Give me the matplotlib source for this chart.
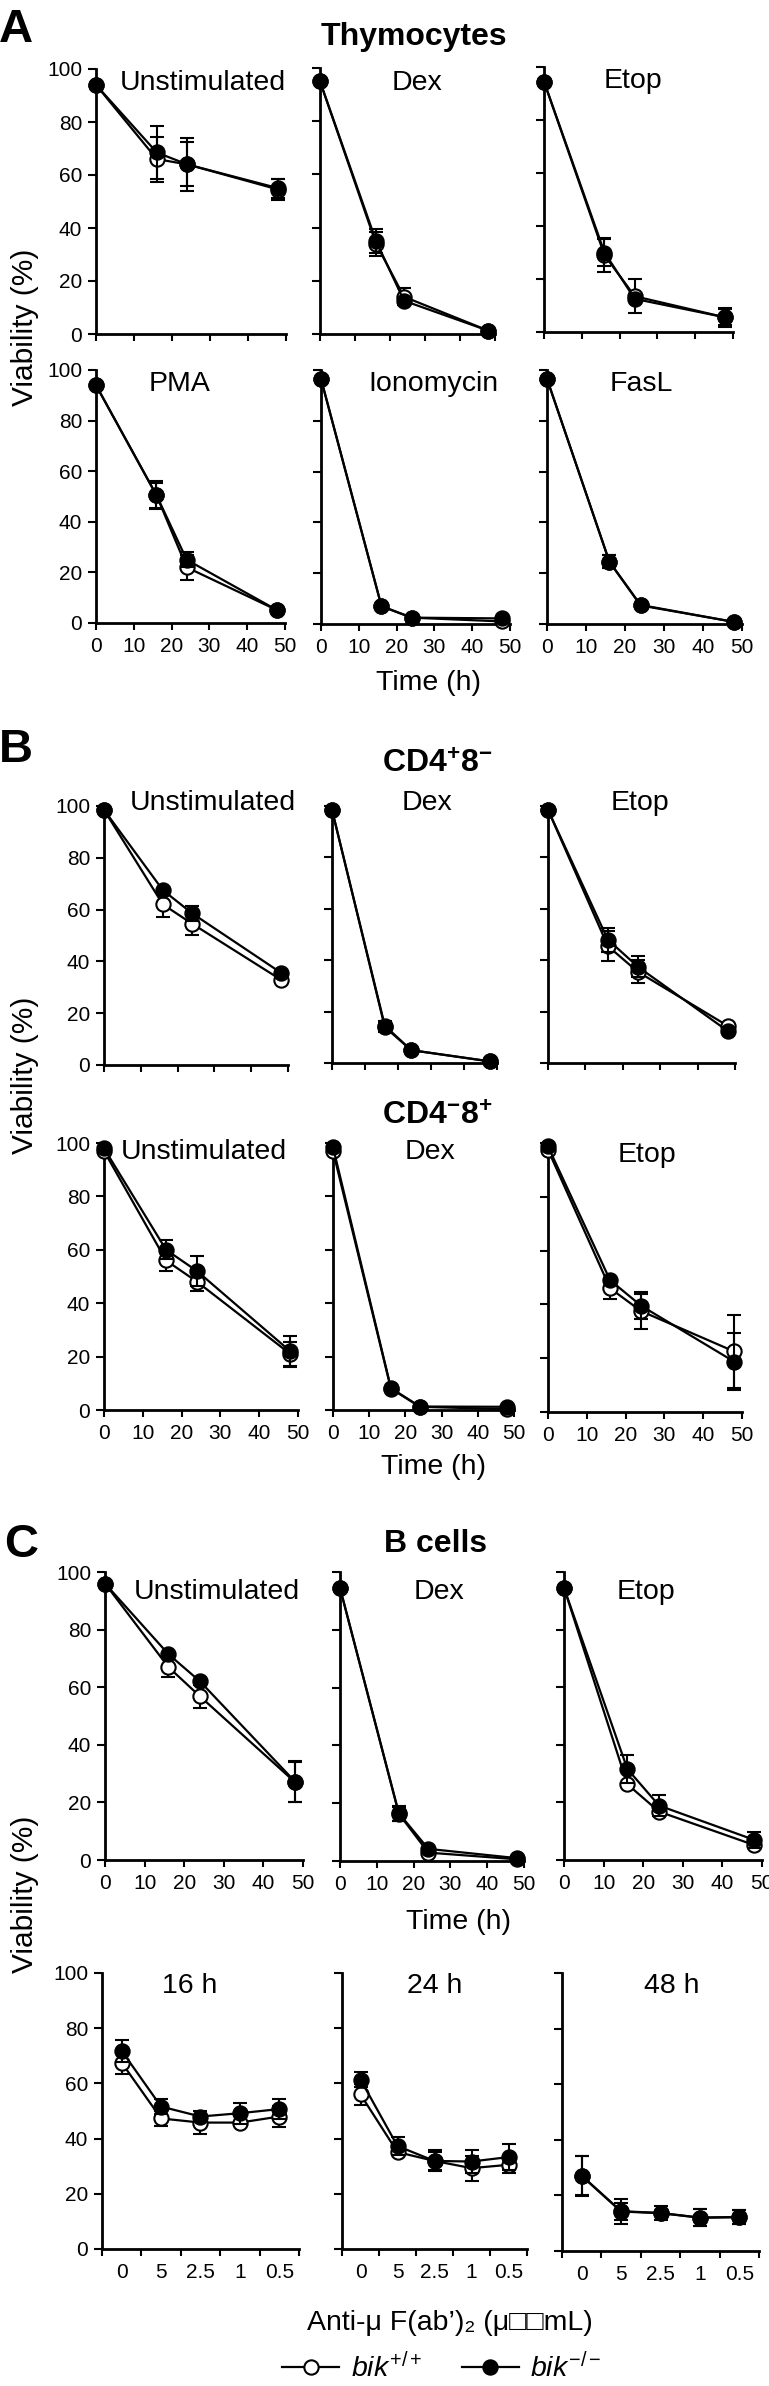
import numpy as np
import matplotlib
matplotlib.use('Agg')
import matplotlib.pyplot as plt
from matplotlib.lines import Line2D

plt.rcParams['font.family'] = ['Liberation Sans', 'DejaVu Sans']
plt.rcParams['mathtext.fontset'] = 'custom'
plt.rcParams['mathtext.rm'] = 'Liberation Sans'
plt.rcParams['mathtext.it'] = 'Liberation Sans:italic'
plt.rcParams['mathtext.bf'] = 'Liberation Sans:bold'

# ---------------- data ----------------
TIME = [0, 16, 24, 48]
TIME_TICKS = [0, 10, 20, 30, 40, 50]
VIAB_TICKS = [0, 20, 40, 60, 80, 100]
DOSE_LABELS = ['0', '5', '2.5', '1', '0.5']

# Thymocytes
thy_unstim_wt = [94, 66, 64, 54.5];   thy_unstim_wt_err = [0, 8.5, 8.3, 4]
thy_unstim_ko = [94, 68.5, 64, 55];   thy_unstim_ko_err = [0, 10, 10, 3.5]
thy_dex_wt = [95, 34, 14, 1.3];       thy_dex_wt_err = [0, 4.5, 3.2, 0]
thy_dex_ko = [95, 35, 12.5, 1.3];     thy_dex_ko_err = [0, 4.5, 0, 0]
thy_etop_wt = [94.5, 29, 13.5, 5.5];  thy_etop_wt_err = [0, 6.3, 6.5, 3.5]
thy_etop_ko = [94.5, 30, 12.5, 5.5];  thy_etop_ko_err = [0, 5, 0, 3]
thy_pma_wt = [94, 50.5, 22, 5];       thy_pma_wt_err = [0, 5.5, 5, 0]
thy_pma_ko = [94, 50.5, 25, 5];       thy_pma_ko_err = [0, 5, 3, 0]
thy_iono_wt = [96.5, 7, 2.5, 1];      thy_iono_wt_err = [0, 0, 0, 0]
thy_iono_ko = [96.5, 7, 2.5, 2.2];    thy_iono_ko_err = [0, 0, 0, 0]
thy_fasl_wt = [96.5, 24.5, 7.3, 0.8]; thy_fasl_wt_err = [0, 2.5, 0, 0]
thy_fasl_ko = [96.5, 24.5, 7.5, 0.8]; thy_fasl_ko_err = [0, 2.5, 0, 0]

# CD4+8-
cd4_unstim_wt = [98.5, 62, 54.5, 33];   cd4_unstim_wt_err = [0, 5, 4.5, 0]
cd4_unstim_ko = [98.5, 67.5, 58.5, 35.7]; cd4_unstim_ko_err = [0, 0, 3, 0]
cd4_dex_wt = [98.5, 14, 5, 0.6];        cd4_dex_wt_err = [0, 2, 0, 0]
cd4_dex_ko = [98.5, 14.5, 5, 0.6];      cd4_dex_ko_err = [0, 2, 0, 0]
cd4_etop_wt = [98.5, 45.5, 35.5, 14.5]; cd4_etop_wt_err = [0, 6, 4.5, 0]
cd4_etop_ko = [98.5, 48, 37.5, 12.5];   cd4_etop_ko_err = [0, 4.7, 4, 0]

# CD4-8+
cd8_unstim_wt = [97, 56, 48, 21];     cd8_unstim_wt_err = [0, 4, 3.5, 4.5]
cd8_unstim_ko = [98, 60, 52, 22];     cd8_unstim_ko_err = [0, 3.5, 5.5, 5.8]
cd8_dex_wt = [97, 8, 1.2, 0.3];       cd8_dex_wt_err = [0, 0, 0, 0]
cd8_dex_ko = [98.5, 8.2, 1.3, 1.2];   cd8_dex_ko_err = [0, 0, 0, 0]
cd8_etop_wt = [97.5, 46, 37.5, 22.5]; cd8_etop_wt_err = [0, 4, 6.5, 13.4]
cd8_etop_ko = [98.7, 49, 39.5, 18.7]; cd8_etop_ko_err = [0, 0, 5, 10.6]

# B cells, time course
b_unstim_wt = [96, 67, 56.8, 27];     b_unstim_wt_err = [0, 3.5, 4, 7]
b_unstim_ko = [96, 71.5, 62, 27.2];   b_unstim_ko_err = [0, 0, 0, 7.2]
b_dex_wt = [94.5, 16.3, 2.9, 0.6];    b_dex_wt_err = [0, 2.5, 0, 0]
b_dex_ko = [94.5, 16.5, 4.2, 1.0];    b_dex_ko_err = [0, 2.5, 0, 0]
b_etop_wt = [94.5, 26.3, 16.8, 5.2];  b_etop_wt_err = [0, 0, 0, 0]
b_etop_ko = [94.5, 31.6, 18.9, 7.0];  b_etop_ko_err = [0, 4.9, 3.7, 2.8]

# B cells, anti-mu F(ab')2 dose
am16_wt = [67.5, 47.3, 45.8, 45.8, 48];   am16_wt_err = [4, 2.7, 4.2, 0, 3.9]
am16_ko = [71.8, 51.6, 48, 49.2, 50.7];   am16_ko_err = [4.1, 2.6, 0, 3.8, 3.5]
am24_wt = [56, 35.1, 31.9, 29.3, 30.5];   am24_wt_err = [3.9, 0, 3.8, 4.5, 3.0]
am24_ko = [61.4, 37.3, 31.9, 31.7, 33.3]; am24_ko_err = [2.8, 3.2, 3.4, 4.2, 4.8]
am48_wt = [27, 14.2, 13.6, 12, 12.2];     am48_wt_err = [7, 4.5, 0, 3, 2.5]
am48_ko = [27.1, 14.3, 13.7, 12, 12.2];   am48_ko_err = [7.2, 3, 2.5, 3, 2.5]

# ---------------- style ----------------
W, H = 769, 2386
fig = plt.figure(figsize=(W / 100, H / 100), dpi=100)

LW = 1.6
MS = 10.3
MEW = 1.5
CAP = 4.8
SPW = 2.0
TICKFS = 15
LABFS = 20.5
YLABFS = 21.5
PTITLEFS = 20.5
HEADFS = 23
LETTERFS = 34


def px(x, y):
    return x / W, 1 - y / H


def rect(x0, x1, ytop, ybot):
    return [x0 / W, 1 - ybot / H, (x1 - x0) / W, (ybot - ytop) / H]


def draw_series(ax, x, y, err, filled):
    x = np.asarray(x, float)
    y = np.asarray(y, float)
    err = np.asarray(err, float)
    m = err > 0
    z = 5 if filled else 3
    if m.any():
        ax.errorbar(x[m], y[m], yerr=err[m], fmt='none', ecolor='black',
                    elinewidth=1.5, capsize=CAP, capthick=1.5, zorder=z - 1,
                    clip_on=False)
    ax.plot(x, y, color='black', lw=LW, marker='o', ms=MS, mew=MEW,
            mfc='black' if filled else 'white', mec='black',
            zorder=z, clip_on=False)


def style_axes(ax, xlim, xticks, show_y, show_x):
    ax.set_xlim(*xlim)
    ax.set_ylim(0, 100)
    for s in ['top', 'right']:
        ax.spines[s].set_visible(False)
    for s in ['left', 'bottom']:
        ax.spines[s].set_linewidth(SPW)
    ax.set_yticks(VIAB_TICKS)
    ax.set_xticks(xticks)
    ax.tick_params(axis='y', direction='out', length=5.5, width=1.5,
                   labelsize=TICKFS, pad=4.5, labelleft=show_y)
    ax.tick_params(axis='x', direction='out', length=4.8, width=1.5,
                   labelsize=TICKFS, pad=5, labelbottom=show_x)
    ax.patch.set_visible(False)


def time_panel(r, wt, wt_err, ko, ko_err, show_y, show_x):
    ax = fig.add_axes(rect(*r))
    style_axes(ax, (0, 50), TIME_TICKS, show_y, show_x)
    draw_series(ax, TIME, wt, wt_err, False)
    draw_series(ax, TIME, ko, ko_err, True)
    return ax


def dose_panel(r, wt, wt_err, ko, ko_err, show_y):
    ax = fig.add_axes(rect(*r))
    n = len(DOSE_LABELS)
    style_axes(ax, (0, n), list(range(n + 1)), show_y, False)
    pos = np.arange(n) + 0.5
    ax.set_xticks(pos, minor=True)
    ax.set_xticklabels(DOSE_LABELS, minor=True)
    ax.tick_params(axis='x', which='minor', length=0, labelsize=TICKFS,
                   pad=10, labelbottom=True)
    draw_series(ax, pos, wt, wt_err, False)
    draw_series(ax, pos, ko, ko_err, True)
    return ax


def ptitle(x, y, s):
    fig.text(*px(x, y), s, ha='center', va='center', fontsize=PTITLEFS)


# ---------------- Panel A : thymocytes ----------------
time_panel((96, 286, 69, 334), thy_unstim_wt, thy_unstim_wt_err, thy_unstim_ko, thy_unstim_ko_err, True, False)
time_panel((320, 495, 68, 334), thy_dex_wt, thy_dex_wt_err, thy_dex_ko, thy_dex_ko_err, False, False)
time_panel((544, 733, 67, 332), thy_etop_wt, thy_etop_wt_err, thy_etop_ko, thy_etop_ko_err, False, False)
ptitle(203, 83, 'Unstimulated'); ptitle(417, 83, 'Dex'); ptitle(633, 81, 'Etop')

time_panel((96, 285, 370, 623), thy_pma_wt, thy_pma_wt_err, thy_pma_ko, thy_pma_ko_err, True, True)
time_panel((321, 510, 370, 624), thy_iono_wt, thy_iono_wt_err, thy_iono_ko, thy_iono_ko_err, False, True)
time_panel((547, 742, 370, 624), thy_fasl_wt, thy_fasl_wt_err, thy_fasl_ko, thy_fasl_ko_err, False, True)
ptitle(180, 384, 'PMA'); ptitle(433, 384, 'Ionomycin'); ptitle(641, 384, 'FasL')

fig.text(*px(16, 30), 'A', ha='center', va='center', fontsize=LETTERFS, fontweight='bold')
fig.text(*px(414, 37), 'Thymocytes', ha='center', va='center', fontsize=HEADFS, fontweight='bold')
fig.text(*px(25, 327), 'Viability (%)', rotation=90, ha='center', va='center', fontsize=YLABFS)
fig.text(*px(429, 683), 'Time (h)', ha='center', va='center', fontsize=LABFS)

# ---------------- Panel B : CD4+8- / CD4-8+ ----------------
time_panel((104, 288, 806, 1065), cd4_unstim_wt, cd4_unstim_wt_err, cd4_unstim_ko, cd4_unstim_ko_err, True, False)
time_panel((332, 497, 806, 1063), cd4_dex_wt, cd4_dex_wt_err, cd4_dex_ko, cd4_dex_ko_err, False, False)
time_panel((548, 735, 806, 1063), cd4_etop_wt, cd4_etop_wt_err, cd4_etop_ko, cd4_etop_ko_err, False, False)
ptitle(213, 803, 'Unstimulated'); ptitle(427, 803, 'Dex'); ptitle(640, 803, 'Etop')

time_panel((104, 298, 1143, 1410), cd8_unstim_wt, cd8_unstim_wt_err, cd8_unstim_ko, cd8_unstim_ko_err, True, True)
time_panel((333, 514, 1143, 1410), cd8_dex_wt, cd8_dex_wt_err, cd8_dex_ko, cd8_dex_ko_err, False, True)
time_panel((548, 742, 1143, 1412), cd8_etop_wt, cd8_etop_wt_err, cd8_etop_ko, cd8_etop_ko_err, False, True)
ptitle(204, 1152, 'Unstimulated'); ptitle(430, 1152, 'Dex'); ptitle(647, 1155, 'Etop')

fig.text(*px(16, 750), 'B', ha='center', va='center', fontsize=LETTERFS, fontweight='bold')
fig.text(*px(437, 765), r'$\mathbf{CD4^{+}8^{-}}$', ha='center', va='center', fontsize=HEADFS)
fig.text(*px(437, 1117), r'$\mathbf{CD4^{-}8^{+}}$', ha='center', va='center', fontsize=HEADFS)
fig.text(*px(25, 1075), 'Viability (%)', rotation=90, ha='center', va='center', fontsize=YLABFS)
fig.text(*px(434, 1467), 'Time (h)', ha='center', va='center', fontsize=LABFS)

# ---------------- Panel C : B cells ----------------
time_panel((105, 303, 1572, 1860), b_unstim_wt, b_unstim_wt_err, b_unstim_ko, b_unstim_ko_err, True, True)
time_panel((340, 524, 1572, 1861), b_dex_wt, b_dex_wt_err, b_dex_ko, b_dex_ko_err, False, True)
time_panel((564, 762, 1572, 1860), b_etop_wt, b_etop_wt_err, b_etop_ko, b_etop_ko_err, False, True)
ptitle(217, 1592, 'Unstimulated'); ptitle(439, 1592, 'Dex'); ptitle(646, 1592, 'Etop')

dose_panel((102, 299, 1973, 2249), am16_wt, am16_wt_err, am16_ko, am16_ko_err, True)
dose_panel((342, 527, 1973, 2249), am24_wt, am24_wt_err, am24_ko, am24_ko_err, False)
dose_panel((562, 759, 1973, 2251), am48_wt, am48_wt_err, am48_ko, am48_ko_err, False)
ptitle(190, 1986, '16 h'); ptitle(435, 1986, '24 h'); ptitle(672, 1986, '48 h')

fig.text(*px(21, 1545), 'C', ha='center', va='center', fontsize=LETTERFS, fontweight='bold')
fig.text(*px(436, 1544), 'B cells', ha='center', va='center', fontsize=HEADFS, fontweight='bold')
fig.text(*px(25, 1894), 'Viability (%)', rotation=90, ha='center', va='center', fontsize=YLABFS)
fig.text(*px(459, 1922), 'Time (h)', ha='center', va='center', fontsize=LABFS)
fig.text(*px(450, 2323), 'Anti-\u03bc F(ab\u2019)\u2082 (\u03bc\u25a1\u25a1mL)', ha='center', va='center',
         fontsize=LABFS)

# legend
h_wt = Line2D([], [], color='black', lw=LW, marker='o', ms=MS, mew=MEW, mfc='white', mec='black')
h_ko = Line2D([], [], color='black', lw=LW, marker='o', ms=MS, mew=MEW, mfc='black', mec='black')
fig.legend([h_wt, h_ko], [r'$\mathit{bik}^{+/+}$', r'$\mathit{bik}^{-/-}$'],
           loc='center', bbox_to_anchor=px(442, 2368), ncol=2, frameon=False,
           fontsize=LABFS, handlelength=2.0, handletextpad=0.4, columnspacing=1.4)

fig.savefig('out.png', dpi=100)
